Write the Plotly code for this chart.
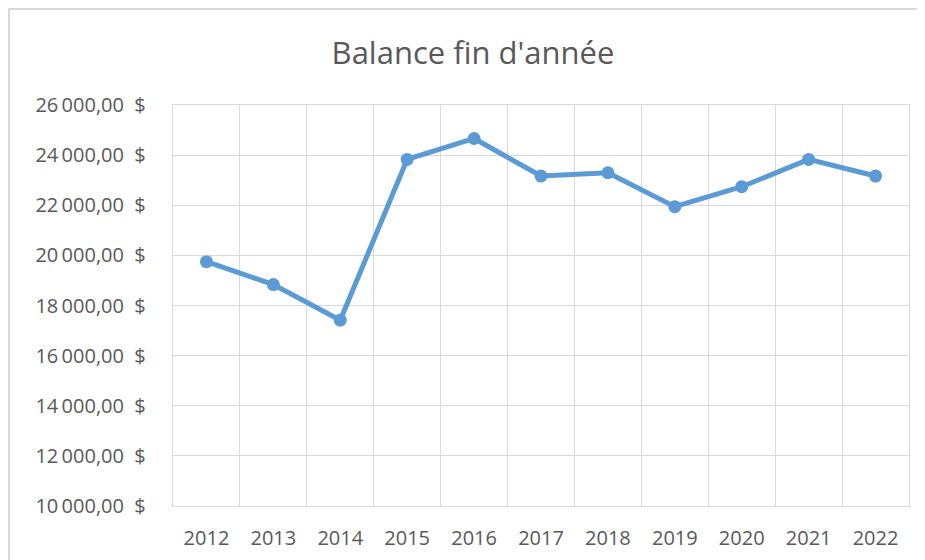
import plotly.graph_objects as go

years = ["2012", "2013", "2014", "2015", "2016", "2017", "2018", "2019", "2020", "2021", "2022"]
balance = [19750, 18835, 17416, 23829, 24664, 23165, 23296, 21944, 22740, 23829, 23165]
y_ticks = [10000, 12000, 14000, 16000, 18000, 20000, 22000, 24000, 26000]
y_labels = [f"{v:,.2f}".replace(",", "\u2009").replace(".", ",") + "  $" for v in y_ticks]

FONT = "Open Sans, sans-serif"
GRID = "#D9D9D9"
TXT = "#595959"

fig = go.Figure(go.Scatter(
    x=years, y=balance, mode="lines+markers",
    line=dict(color="#5B9BD5", width=5),
    marker=dict(color="#5B9BD5", size=13),
))

# page body adds an 8px offset; figure coordinates are page - 8
W, H = 917, 552
L, R, T, B = 165, 16, 97, 54
pw, ph = W - L - R, H - T - B

fig.update_layout(
    width=W, height=H,
    margin=dict(l=L, r=R, t=T, b=B, autoexpand=False),
    paper_bgcolor="white", plot_bgcolor="white",
    showlegend=False,
    font=dict(family=FONT, color=TXT, size=20),
    title=dict(text="Balance fin d'année", x=(465 - L) / pw, xref="paper", xanchor="center",
               y=1 - 45 / H, yanchor="middle", font=dict(size=31, color=TXT)),
    xaxis=dict(type="category", range=[-0.5, 10.5], tickson="boundaries", showgrid=True,
               gridcolor=GRID, gridwidth=1.4, automargin=False,
               showline=True, mirror=True, linecolor=GRID, linewidth=1.4, ticks="",
               ticklabelstandoff=14, zeroline=False),
    yaxis=dict(range=[10000, 26000], tickvals=y_ticks, ticktext=y_labels, automargin=False,
               showgrid=True, gridcolor=GRID, gridwidth=1.4, zeroline=False,
               showline=True, mirror=True, linecolor=GRID, linewidth=1.4, ticks="",
               ticklabelstandoff=22),
    shapes=[
        dict(type="line", xref="paper", yref="paper",
             x0=(0 - L) / pw, x1=(W + 10 - L) / pw, y0=1 + (T - 1) / ph, y1=1 + (T - 1) / ph,
             line=dict(color=GRID, width=2)),
        dict(type="line", xref="paper", yref="paper",
             x0=(1 - L) / pw, x1=(1 - L) / pw, y0=-(B + 10) / ph, y1=1 + T / ph,
             line=dict(color=GRID, width=2)),
    ],
)

fig.write_html("out.html")
